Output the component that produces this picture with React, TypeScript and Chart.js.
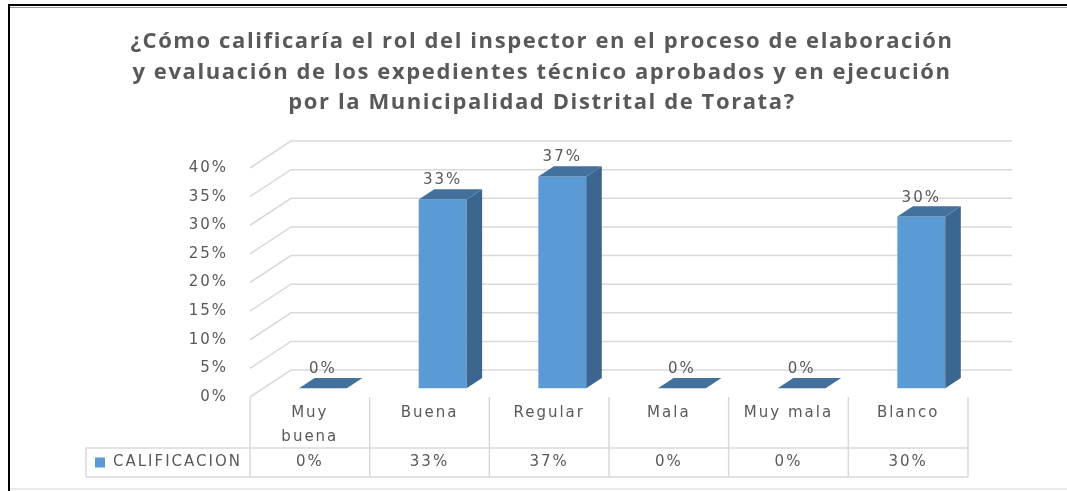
import React, { useEffect, useRef } from "react";
import { Chart, registerables } from "chart.js";

Chart.register(...registerables);

const titleLines = [
  "¿Cómo calificaría el rol del inspector en el proceso de elaboración",
  "y evaluación de los expedientes técnico aprobados y en ejecución",
  "por la Municipalidad Distrital de Torata?",
];
const categories: (string | string[])[] = [["Muy", "buena"], "Buena", "Regular", "Mala", "Muy mala", "Blanco"];
const seriesName = "CALIFICACION";
const values = [0, 0.33, 0.37, 0, 0, 0.3];
const yMin = 0;
const yMax = 0.4;
const yStep = 0.05;

const BLUE = "#5B9BD5";
const SIDE = "#3A6690";
const TOP = "#41719C";
const GRID = "#D9D9D9";
const TEXT = "#595959";
const DEPTH = { x: 41, y: -27 };
const F0 = 0.32;
const F1 = 0.7;
const TICK_FONT = "DejaVu Sans";

const fmt = (v: number) => Math.round(v * 100) + "%";

const excel3d = {
  id: "excel3d",
  beforeDraw(chart: any) {
    chart.ctx.letterSpacing = "2px";
  },
  beforeDatasetsDraw(chart: any) {
    const { ctx, chartArea: a, scales } = chart;
    const y = scales.y;
    ctx.save();
    ctx.strokeStyle = GRID;
    ctx.lineWidth = 1.5;
    y.ticks.forEach((t: any) => {
      const py = y.getPixelForValue(t.value);
      ctx.beginPath();
      ctx.moveTo(a.left, py);
      ctx.lineTo(a.left + DEPTH.x, py + DEPTH.y);
      ctx.lineTo(a.right + DEPTH.x + 3, py + DEPTH.y);
      ctx.stroke();
    });
    ctx.restore();
  },
  beforeDatasetDraw(chart: any) {
    chart.ctx.save();
    chart.ctx.translate(F0 * DEPTH.x, F0 * DEPTH.y);
  },
  afterDatasetDraw(chart: any, args: any) {
    const ctx = chart.ctx;
    ctx.restore();
    const fx = F0 * DEPTH.x;
    const fy = F0 * DEPTH.y;
    const dx = (F1 - F0) * DEPTH.x;
    const dy = (F1 - F0) * DEPTH.y;
    ctx.save();
    args.meta.data.forEach((el: any) => {
      const p = el.getProps(["x", "y", "base", "width"], true);
      const x0 = p.x - p.width / 2 + fx;
      const x1 = p.x + p.width / 2 + fx;
      const top = p.y + fy;
      const bottom = p.base + fy;
      ctx.fillStyle = SIDE;
      ctx.beginPath();
      ctx.moveTo(x1, top);
      ctx.lineTo(x1 + dx, top + dy);
      ctx.lineTo(x1 + dx, bottom + dy);
      ctx.lineTo(x1, bottom);
      ctx.closePath();
      ctx.fill();
      ctx.fillStyle = TOP;
      ctx.beginPath();
      ctx.moveTo(x0, top);
      ctx.lineTo(x1, top);
      ctx.lineTo(x1 + dx, top + dy);
      ctx.lineTo(x0 + dx, top + dy);
      ctx.closePath();
      ctx.fill();
    });
    ctx.restore();
  },
  afterDatasetsDraw(chart: any) {
    const ctx = chart.ctx;
    const meta = chart.getDatasetMeta(0);
    const data = chart.data.datasets[0].data as number[];
    ctx.save();
    ctx.letterSpacing = "2px";
    ctx.font = `15px "${TICK_FONT}"`;
    ctx.fillStyle = TEXT;
    ctx.textAlign = "center";
    ctx.textBaseline = "middle";
    meta.data.forEach((el: any, i: number) => {
      const p = el.getProps(["x", "y"], true);
      ctx.fillText(fmt(data[i]), p.x + F0 * DEPTH.x, p.y + F0 * DEPTH.y - 19);
    });
    ctx.restore();
  },
  afterDraw(chart: any) {
    const { ctx, chartArea: a } = chart;
    const data = chart.data.datasets[0].data as number[];
    const n = data.length;
    const colW = (a.right - a.left) / n;
    const rowTop = 448;
    const tableBottom = 477;
    const legendLeft = 86;
    ctx.save();
    ctx.strokeStyle = GRID;
    ctx.lineWidth = 1.5;
    ctx.beginPath();
    for (let i = 0; i <= n; i++) {
      const bx = a.left + i * colW;
      ctx.moveTo(bx, a.bottom);
      ctx.lineTo(bx, tableBottom);
    }
    ctx.moveTo(legendLeft, rowTop);
    ctx.lineTo(a.right, rowTop);
    ctx.moveTo(legendLeft, tableBottom);
    ctx.lineTo(a.right, tableBottom);
    ctx.moveTo(legendLeft, rowTop);
    ctx.lineTo(legendLeft, tableBottom);
    ctx.stroke();

    const rowMid = (rowTop + tableBottom) / 2;
    ctx.fillStyle = BLUE;
    ctx.fillRect(95, rowMid - 5, 10, 10);
    ctx.letterSpacing = "2px";
    ctx.font = `15px "${TICK_FONT}"`;
    ctx.fillStyle = TEXT;
    ctx.textBaseline = "middle";
    ctx.textAlign = "left";
    ctx.fillText(chart.data.datasets[0].label, 113, rowMid);
    ctx.textAlign = "center";
    data.forEach((v, i) => {
      ctx.fillText(fmt(v), a.left + (i + 0.5) * colW, rowMid);
    });

    ctx.letterSpacing = "1.6px";
    ctx.font = `bold 22px "Open Sans"`;
    ctx.fillStyle = TEXT;
    ctx.textAlign = "center";
    ctx.textBaseline = "middle";
    const ys = [42, 73, 103];
    titleLines.forEach((t, i) => ctx.fillText(t, 542, ys[i]));

    ctx.letterSpacing = "0px";
    ctx.strokeStyle = "#000";
    ctx.lineWidth = 2;
    ctx.beginPath();
    ctx.moveTo(9, 491);
    ctx.lineTo(9, 5);
    ctx.lineTo(1067, 5);
    ctx.stroke();
    ctx.strokeStyle = "#9a9a9a";
    ctx.lineWidth = 1;
    ctx.beginPath();
    ctx.moveTo(10, 7.5);
    ctx.lineTo(1067, 7.5);
    ctx.stroke();
    ctx.strokeStyle = "#e3e3e3";
    ctx.lineWidth = 1.5;
    ctx.beginPath();
    ctx.moveTo(10, 489);
    ctx.lineTo(1067, 489);
    ctx.stroke();
    ctx.restore();
  },
};

export default function App() {
  const ref = useRef<HTMLCanvasElement | null>(null);
  useEffect(() => {
    if (!ref.current) return;
    const chart = new Chart(ref.current, {
      type: "bar",
      data: {
        labels: categories as any,
        datasets: [
          {
            label: seriesName,
            data: values,
            backgroundColor: BLUE,
            borderWidth: 0,
            categoryPercentage: 0.8,
            barPercentage: 0.5,
            clip: false as any,
          },
        ],
      },
      options: {
        animation: false,
        responsive: false,
        devicePixelRatio: 1,
        layout: { padding: { top: 168, left: 116, right: 99, bottom: 0 } },
        plugins: {
          legend: { display: false },
          title: { display: false },
          tooltip: { enabled: false },
        },
        scales: {
          x: {
            grid: { display: false, drawTicks: false },
            border: { display: false },
            ticks: {
              color: TEXT,
              font: { family: TICK_FONT, size: 15, lineHeight: 1.6 },
              padding: 4,
              maxRotation: 0,
              autoSkip: false,
            },
            afterFit: (s: any) => {
              s.height = 94;
            },
          },
          y: {
            min: yMin,
            max: yMax,
            grid: { display: false, drawTicks: false },
            border: { display: false },
            ticks: {
              stepSize: yStep,
              color: TEXT,
              font: { family: TICK_FONT, size: 15 },
              padding: 22,
              callback: (v: any) => fmt(Number(v)),
            },
            afterFit: (s: any) => {
              s.width = 134;
            },
          },
        },
      },
      plugins: [excel3d],
    });
    return () => chart.destroy();
  }, []);
  return (
    <div style={{ position: "fixed", left: 0, top: 0, width: 1067, height: 491, background: "#fff" }}>
      <canvas ref={ref} width={1067} height={491} style={{ width: 1067, height: 491, display: "block" }} />
    </div>
  );
}
